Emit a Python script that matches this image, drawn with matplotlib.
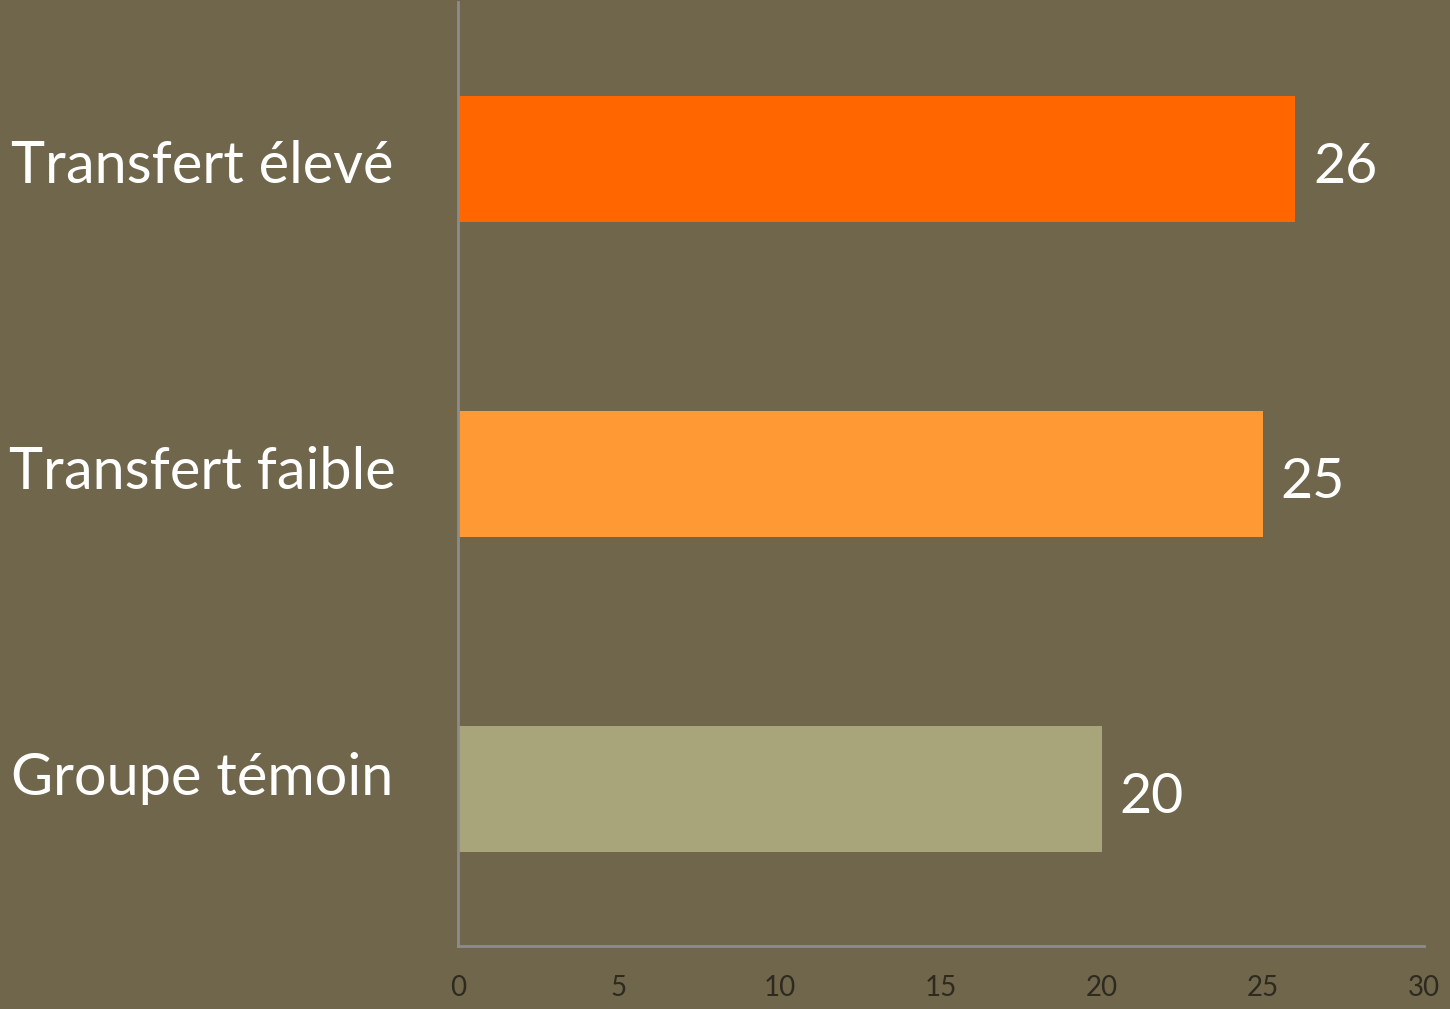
import matplotlib
matplotlib.use("Agg")
import matplotlib.pyplot as plt
from matplotlib.transforms import blended_transform_factory

categories = ["Transfert élevé", "Transfert faible", "Groupe témoin"]
values = [26, 25, 20]
colors = ["#FF6600", "#FF9933", "#A8A57A"]
xticks = [0, 5, 10, 15, 20, 25, 30]

bg = "#6F664B"
plt.rcParams['font.family'] = ['Lato', 'DejaVu Sans']

fig = plt.figure(figsize=(14.5, 10.09), dpi=100, facecolor=bg)
ax = fig.add_axes([458/1450, 1 - 946/1009, (1424-458)/1450, 944/1009])
ax.set_facecolor(bg)

ypos = list(range(len(categories)))
ax.barh(ypos, values, height=0.4, color=colors, zorder=2)
ax.set_ylim(len(categories) - 0.5, -0.5)
ax.set_xlim(0, 30)
ax.set_xticks(xticks)
ax.set_xticklabels([str(t) for t in xticks], fontsize=20, color="#2E2A1F")
ax.set_yticks([])
ax.tick_params(axis='both', length=0)
ax.tick_params(axis='x', pad=21)
for s in ["top", "right"]:
    ax.spines[s].set_visible(False)
for s in ["left", "bottom"]:
    ax.spines[s].set_color("#8C8C8C")
    ax.spines[s].set_linewidth(2)

# category labels, centred in the left margin
trans = blended_transform_factory(fig.transFigure, ax.transData)
for i, cat in enumerate(categories):
    ax.text(202/1450, 0.076 + 0.972 * i, cat, transform=trans, ha="center",
            va="baseline", fontsize=41.5, color="white", clip_on=False)

for y, v in zip(ypos, values):
    ax.text(v + 0.55, y + 0.076, str(v), va="baseline", ha="left",
            fontsize=40, color="white")

fig.savefig("out.png", dpi=100, facecolor=bg)
